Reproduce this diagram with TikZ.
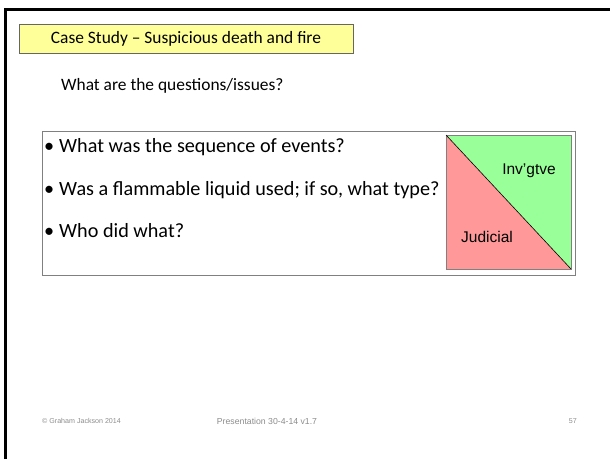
\documentclass[tikz,border=0pt]{standalone}
\usepackage{fontspec}
\setmainfont{Carlito}
\newfontfamily\arialfont{Liberation Sans}
\definecolor{titleyellow}{RGB}{255,255,153}
\definecolor{judred}{RGB}{255,153,153}
\definecolor{invgreen}{RGB}{153,255,153}
\definecolor{footgray}{RGB}{140,140,140}
\tikzset{
  titlebox/.style={draw=gray!80!black, fill=titleyellow, line width=0.8pt, minimum width=334pt, minimum height=29pt, anchor=north west, inner sep=0pt},
  bullet/.style={anchor=west, inner sep=0pt, font=\fontsize{20.2}{22}\selectfont},
  footer/.style={inner sep=0pt, text=footgray, font=\arialfont\fontsize{7.1}{9}\selectfont},
  squarelabel/.style={inner sep=0pt, font=\arialfont\fontsize{15.5}{17}\selectfont}
}
\begin{document}
\begin{tikzpicture}[x=1pt,y=-1pt]
    \useasboundingbox (0,0) rectangle (610,459);
    \draw[line width=3pt] (5,459) -- (5,9) -- (610,9);
    \node[titlebox] (title) at (19,24) {};
    \node[inner sep=0pt, font=\fontsize{17.4}{19}\selectfont] (titletext) at (186,39) {Case Study -- Suspicious death and fire};
    \node[anchor=west, inner sep=0pt, font=\fontsize{17.4}{19}\selectfont] (question) at (61,86) {What are the questions/issues?};
    \draw[gray, line width=1pt] (42,131) rectangle (575,275);
    \node[bullet] (b1) at (44,147) {\textbullet\hspace{5pt}What was the sequence of events?};
    \node[bullet] (b2) at (44,190) {\textbullet\hspace{5pt}Was a flammable liquid used; if so, what type?};
    \node[bullet] (b3) at (44,231) {\textbullet\hspace{5pt}Who did what?};
    % square
    \fill[invgreen] (446,135) -- (571,135) -- (571,269) -- cycle;
    \fill[judred] (446,135) -- (571,269) -- (446,269) -- cycle;
    \draw[gray, line width=0.8pt] (446,135) rectangle (571,269);
    \draw[line width=0.6pt] (446,135) -- (571,269);
    \node[squarelabel] (inv) at (529,171) {Inv’gtve};
    \node[squarelabel] (jud) at (487,237) {Judicial};
    \node[footer, anchor=west] (copy) at (42,421) {© Graham Jackson 2014};
    \node[footer, font=\arialfont\fontsize{8.7}{10}\selectfont] (pres) at (267,421) {Presentation 30-4-14 v1.7};
    \node[footer, anchor=east] (page) at (577,421) {57};
\end{tikzpicture}
\end{document}
